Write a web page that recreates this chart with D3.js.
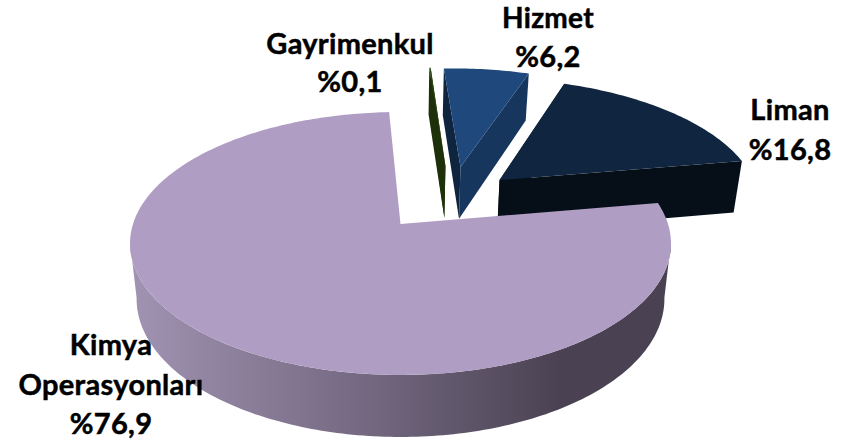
<!DOCTYPE html>
<html>
<head>
<meta charset="utf-8">
<script src="https://cdnjs.cloudflare.com/ajax/libs/d3/7.8.5/d3.min.js"></script>
<style>
	html, body { margin: 0; padding: 0; background: #fff; }
	svg { display: block; }
	text { font-family: Lato, "Open Sans", sans-serif; font-weight: 700; font-size: 29px; letter-spacing: 0.3px; fill: #000; stroke: #000; stroke-width: 0.5px; text-anchor: middle; }
</style>
</head>
<body>
<svg class="pie-chart" width="851" height="442"></svg>
<script>
// values, same order as the slices go clockwise
var categories = ["Gayrimenkul", "Hizmet", "Liman", "Kimya Operasyonları"];
var shares = [0.1, 6.2, 16.8, 76.9];
var valueLabels = ["%0,1", "%6,2", "%16,8", "%76,9"];

var topColors = ["#2b4612", "#1f497d", "#10253f", "#b09dc4"];
var startWallColors = ["#1d3009", "#0f243e", "#060f18", "#4a4252"];
var endWallColors = ["#1d3009", "#17365d", "#060f18", "#4a4252"];

// slice pull out on the disc plane, unit = pie radius
var offsets = [[0.18, -0.483], [0.24, -0.474], [0.39, -0.36], [0, 0]];

var labelLines = [
	{x: 350, y: [54, 92], text: ["Gayrimenkul", valueLabels[0]]},
	{x: 548, y: [28, 67], text: ["Hizmet", valueLabels[1]], size: 28}, // touches the top edge otherwise
	{x: 790, y: [120, 160], text: ["Liman", valueLabels[2]]},
	{x: 111, y: [355, 395, 434], text: ["Kimya", "Operasyonları", valueLabels[3]]}
];

var toRad = Math.PI / 180;
var svg = d3.select(".pie-chart");

// perspective of the tilted disc
var k = 0.148;
var topDisc = {x0: 400.5, y0: 224, a: 128.6, b: 267.5};
var lowDisc = {x0: 400.5, y0: 278.5, a: 135, b: 261};

function project(disc, u, v) {
	var w = 1 - k * v;
	return [disc.x0 + disc.b * u / w, disc.y0 + disc.a * v / w];
}

function rim(disc, angle, off) {
	return project(disc, off[0] + Math.sin(angle), off[1] - Math.cos(angle));
}

var pie = d3.pie().sort(null).startAngle(-2.8 * toRad).endAngle((360 - 2.8) * toRad);
var slices = pie(shares);
var line = d3.line();

function arcPoints(disc, a0, a1, off) {
	var n = Math.max(2, Math.ceil(Math.abs(a1 - a0) / (toRad)));
	return d3.range(n + 1).map(function(i) {
		return rim(disc, a0 + (a1 - a0) * i / n, off);
	});
}

// kimya side wall gets the left to right shading
var grad = svg.append("defs").append("linearGradient")
	.attr("id", "wallShade")
	.attr("gradientUnits", "userSpaceOnUse")
	.attr("x1", 135).attr("x2", 560)
	.attr("y1", 0).attr("y2", 0);
grad.append("stop").attr("offset", "0%").attr("stop-color", "#a092b1");
grad.append("stop").attr("offset", "55%").attr("stop-color", "#736880");
grad.append("stop").attr("offset", "100%").attr("stop-color", "#4a4252");

slices.forEach(function(d, i) {
	var off = offsets[i];
	var g = svg.append("g").attr("class", "slice");

	if (i < 3) {
		// the two cut faces
		[[d.startAngle, startWallColors[i]], [d.endAngle, endWallColors[i]]].forEach(function(e) {
			var pts = [
				project(topDisc, off[0], off[1]),
				rim(topDisc, e[0], off),
				rim(lowDisc, e[0], off),
				project(lowDisc, off[0], off[1])
			];
			g.append("path").attr("d", line(pts) + "Z").attr("fill", e[1]);
		});
	} else {
		// outer wall, front part only
		var a0 = 98 * toRad, a1 = 262 * toRad;
		var pts = arcPoints(topDisc, a0, a1, off).concat(arcPoints(lowDisc, a1, a0, off));
		g.append("path").attr("d", line(pts) + "Z").attr("fill", "url(#wallShade)");
	}

	var face = [project(topDisc, off[0], off[1])].concat(arcPoints(topDisc, d.startAngle, d.endAngle, off));
	g.append("path").attr("d", line(face) + "Z").attr("fill", topColors[i]);
});

// labels
labelLines.forEach(function(l) {
	l.text.forEach(function(t, j) {
		var label = svg.append("text").attr("x", l.x).attr("y", l.y[j]).text(t);
		if (l.size && j === 0) label.style("font-size", l.size + "px");
	});
});
</script>
</body>
</html>
